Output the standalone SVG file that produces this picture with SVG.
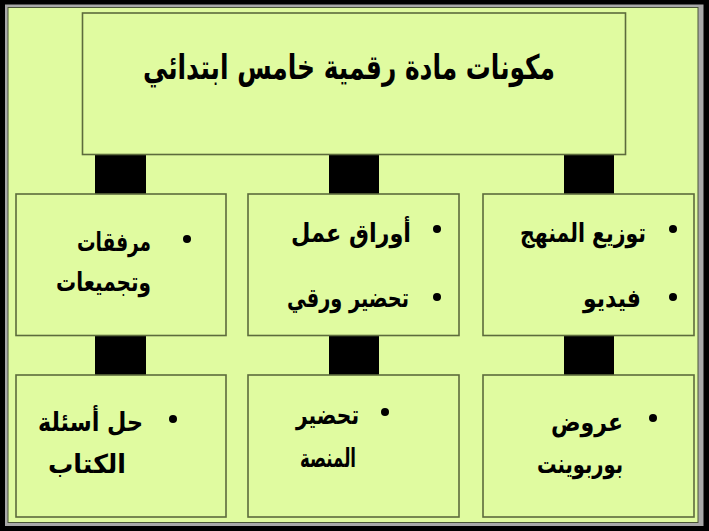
<svg xmlns="http://www.w3.org/2000/svg" width="709" height="531" viewBox="0 0 709 531">
<style>
.box{fill:#e0fba0;stroke:#5d6b3c;stroke-width:1.6}
.conn{fill:#000}
.t{font-family:"DejaVu Sans",sans-serif;font-weight:bold;fill:#000;direction:rtl;text-anchor:start}
.title{font-size:34px}
.b{font-size:26px}
.dot{fill:#000}
</style>
<rect x="0" y="0" width="709" height="531" fill="#000"/>
<rect x="5" y="4.5" width="698.5" height="521.5" fill="#a8a8a8"/>
<rect x="8" y="7.5" width="690" height="515" fill="#e0fba0" stroke="#4a5538" stroke-width="1"/>
<g id="connectors">
<rect class="conn" x="95" y="154.5" width="51" height="39.5"/>
<rect class="conn" x="329" y="154.5" width="50" height="39.5"/>
<rect class="conn" x="564" y="154.5" width="50" height="39.5"/>
<rect class="conn" x="95" y="336" width="51" height="39"/>
<rect class="conn" x="329" y="336" width="50" height="39"/>
<rect class="conn" x="564" y="336" width="50" height="39"/>
</g>
<g id="root">
<rect class="box" x="82.5" y="13" width="543" height="141.5"/>
<text class="t title" x="555" y="79" textLength="412" lengthAdjust="spacingAndGlyphs">مكونات مادة رقمية خامس ابتدائي</text>
</g>
<g id="n1">
<rect class="box" x="483" y="194" width="211" height="141.5"/>
<circle class="dot" cx="673" cy="229" r="4"/>
<text class="t b" x="646" y="242" textLength="126" lengthAdjust="spacingAndGlyphs">توزيع المنهج</text>
<circle class="dot" cx="673" cy="297" r="4"/>
<text class="t b" x="641" y="307" textLength="58" lengthAdjust="spacingAndGlyphs">فيديو</text>
</g>
<g id="n2">
<rect class="box" x="248" y="194" width="211" height="141.5"/>
<circle class="dot" cx="437" cy="229" r="4"/>
<text class="t b" x="411" y="242" textLength="120" lengthAdjust="spacingAndGlyphs">أوراق عمل</text>
<circle class="dot" cx="437" cy="297" r="4"/>
<text class="t b" x="409" y="307" textLength="122" lengthAdjust="spacingAndGlyphs">تحضير ورقي</text>
</g>
<g id="n3">
<rect class="box" x="16" y="194" width="210" height="141.5"/>
<circle class="dot" cx="187" cy="239" r="4"/>
<text class="t b" x="151" y="251" textLength="74" lengthAdjust="spacingAndGlyphs">مرفقات</text>
<text class="t b" x="151" y="291" textLength="95" lengthAdjust="spacingAndGlyphs">وتجميعات</text>
</g>
<g id="n4">
<rect class="box" x="483" y="375" width="211" height="142"/>
<circle class="dot" cx="653" cy="418" r="4"/>
<text class="t b" x="623" y="431" textLength="72" lengthAdjust="spacingAndGlyphs">عروض</text>
<text class="t b" x="623" y="473" textLength="86" lengthAdjust="spacingAndGlyphs">بوربوينت</text>
</g>
<g id="n5">
<rect class="box" x="248" y="375" width="211" height="142"/>
<circle class="dot" cx="385" cy="412" r="4"/>
<text class="t b" x="359" y="424" textLength="63" lengthAdjust="spacingAndGlyphs">تحضير</text>
<text class="t b" x="356" y="467" textLength="56" lengthAdjust="spacingAndGlyphs">المنصة</text>
</g>
<g id="n6">
<rect class="box" x="16" y="375" width="210" height="142"/>
<circle class="dot" cx="173" cy="419" r="4"/>
<text class="t b" x="143" y="431" textLength="105" lengthAdjust="spacingAndGlyphs">حل أسئلة</text>
<text class="t b" x="126" y="473" textLength="78" lengthAdjust="spacingAndGlyphs">الكتاب</text>
</g>
</svg>
